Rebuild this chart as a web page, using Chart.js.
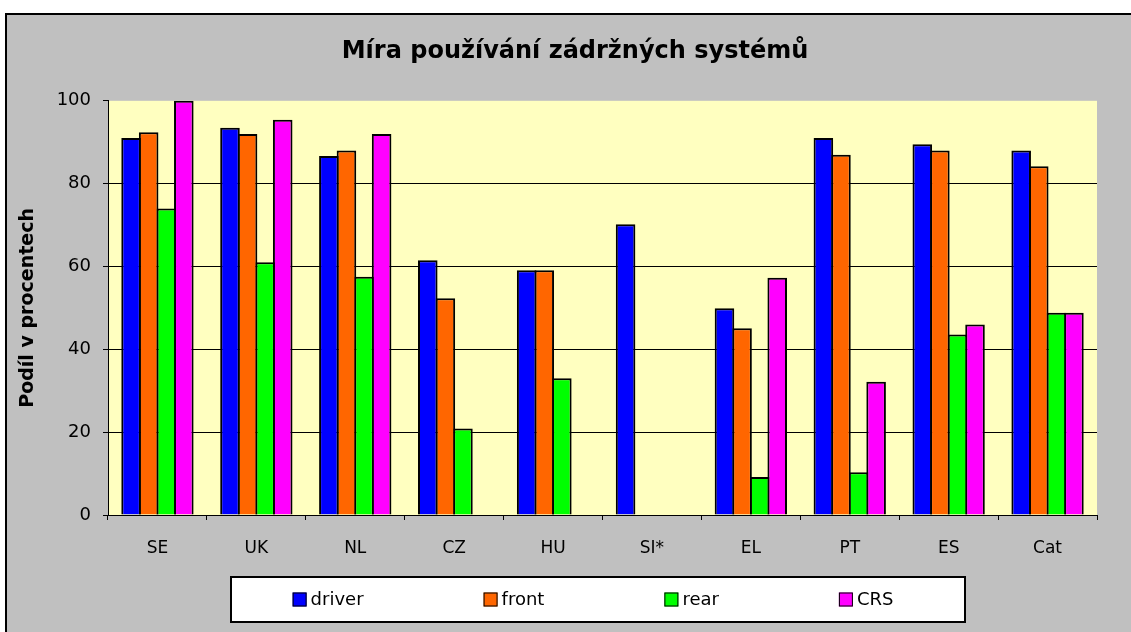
<!DOCTYPE html>
<html>
<head>
<meta charset="utf-8">
<script src="https://cdn.jsdelivr.net/npm/chart.js@4.4.0/dist/chart.umd.min.js"></script>
<style>
    html, body { margin: 0; padding: 0; background: #fff; }
</style>
</head>
<body>
<canvas id="chart" width="1131" height="632"></canvas>
<script>
var categories = ['SE', 'UK', 'NL', 'CZ', 'HU', 'SI*', 'EL', 'PT', 'ES', 'Cat'];
var driver = [91.0, 93.5, 86.7, 61.5, 59.1, 70.2, 49.9, 91.0, 89.5, 88.0];
var front  = [92.4, 92.0, 88.0, 52.3, 59.1, null, 45.1, 87.0, 88.0, 84.2];
var rear   = [74.0, 61.0, 57.5, 20.9, 33.0, null,  9.2, 10.3, 43.6, 48.8];
var crs    = [100,  95.4, 92.0, null, null, null, 57.3, 32.2, 46.0, 48.8];

var seriesNames = ['driver', 'front', 'rear', 'CRS'];
var seriesColors = ['#0000FF', '#FF6600', '#00FF00', '#FF00FF'];
var yTicks = [0, 20, 40, 60, 80, 100];

var FONT = '"DejaVu Sans", sans-serif';

// gray chart frame + pale yellow plot area
var framePlugin = {
    id: 'frame',
    beforeDraw: function (chart) {
        var ctx = chart.ctx;
        var a = chart.chartArea;
        ctx.save();
        ctx.fillStyle = '#C0C0C0';
        ctx.fillRect(5, 13, chart.width - 5, chart.height - 13);
        ctx.fillStyle = '#000';
        ctx.fillRect(5, 13, chart.width - 5, 2);
        ctx.fillRect(5, 13, 2, chart.height - 13);
        ctx.fillStyle = '#FFFFC0';
        ctx.fillRect(a.left, a.top, a.right - a.left, a.bottom - a.top);
        ctx.restore();
    }
};

// Excel centres the title a bit right of the canvas middle
var titleShift = {
    id: 'titleShift',
    afterLayout: function (chart) {
        var t = chart.titleBlock;
        t.left = 2 * 575 - t.right;
    }
};

// boxed legend under the axis
var boxLegend = {
    id: 'boxLegend',
    afterDraw: function (chart) {
        var ctx = chart.ctx;
        var box = { x: 231, y: 577, w: 734, h: 45 };
        var marker = 14, gap = 4, spacing = 120;
        ctx.save();
        ctx.fillStyle = '#fff';
        ctx.fillRect(box.x, box.y, box.w, box.h);
        ctx.strokeStyle = '#000';
        ctx.lineWidth = 2;
        ctx.strokeRect(box.x, box.y, box.w, box.h);
        ctx.font = '18px ' + FONT;
        var items = chart.data.datasets.map(function (ds) {
            return { label: ds.label, color: ds.backgroundColor, w: marker + gap + ctx.measureText(ds.label).width };
        });
        var total = items.reduce(function (s, it) { return s + it.w; }, 0) + spacing * (items.length - 1);
        var x = box.x + (box.w - total) / 2 - 5;
        var cy = box.y + box.h / 2;
        items.forEach(function (it) {
            ctx.fillStyle = it.color;
            ctx.fillRect(x, cy - marker / 2, marker, marker);
            ctx.lineWidth = 1;
            ctx.strokeRect(x + 0.5, cy - marker / 2 + 0.5, marker - 1, marker - 1);
            ctx.fillStyle = '#000';
            ctx.textAlign = 'left';
            ctx.textBaseline = 'middle';
            ctx.fillText(it.label, x + marker + gap, cy + 1);
            x += it.w + spacing;
        });
        ctx.restore();
    }
};

var values = [driver, front, rear, crs];
var datasets = values.map(function (v, i) {
    return {
        label: seriesNames[i],
        data: v,
        backgroundColor: seriesColors[i],
        borderColor: '#000',
        borderWidth: 2,
        categoryPercentage: 0.711,
        barPercentage: 1.114
    };
});

new Chart(document.getElementById('chart').getContext('2d'), {
    type: 'bar',
    data: { labels: categories, datasets: datasets },
    plugins: [framePlugin, titleShift, boxLegend],
    options: {
        responsive: false,
        animation: false,
        devicePixelRatio: 1,
        layout: { padding: { left: 9, top: 15, right: 34, bottom: 55 } },
        plugins: {
            legend: { display: false },
            tooltip: { enabled: false },
            title: {
                display: true,
                text: 'Míra používání zádržných systémů',
                color: '#000',
                font: { family: FONT, size: 24, weight: 'bold' },
                padding: { top: 22, bottom: 35 }
            }
        },
        scales: {
            x: {
                grid: { drawOnChartArea: false, drawTicks: true, tickLength: 5, tickColor: '#000', offset: true },
                border: { display: true, color: '#000', width: 1 },
                ticks: { color: '#000', font: { family: FONT, size: 17 }, padding: 18, maxRotation: 0, autoSkip: false },
                afterFit: function (s) { s.height = 62; }
            },
            y: {
                min: 0,
                max: 100,
                afterBuildTicks: function (s) {
                    s.ticks = yTicks.map(function (v) { return { value: v }; });
                },
                grid: {
                    color: function (c) { return c.tick && c.tick.value === 100 ? 'rgba(0,0,0,0)' : '#000'; },
                    tickColor: '#000',
                    tickLength: 5
                },
                border: { color: '#000', width: 1 },
                ticks: { color: '#000', font: { family: FONT, size: 18 }, padding: 12 },
                title: {
                    display: true,
                    text: 'Podíl v procentech',
                    color: '#000',
                    font: { family: FONT, size: 19, weight: 'bold' },
                    padding: { top: 8, bottom: 0 }
                },
                afterFit: function (s) { s.width = 99; }
            }
        }
    }
});
</script>
</body>
</html>
